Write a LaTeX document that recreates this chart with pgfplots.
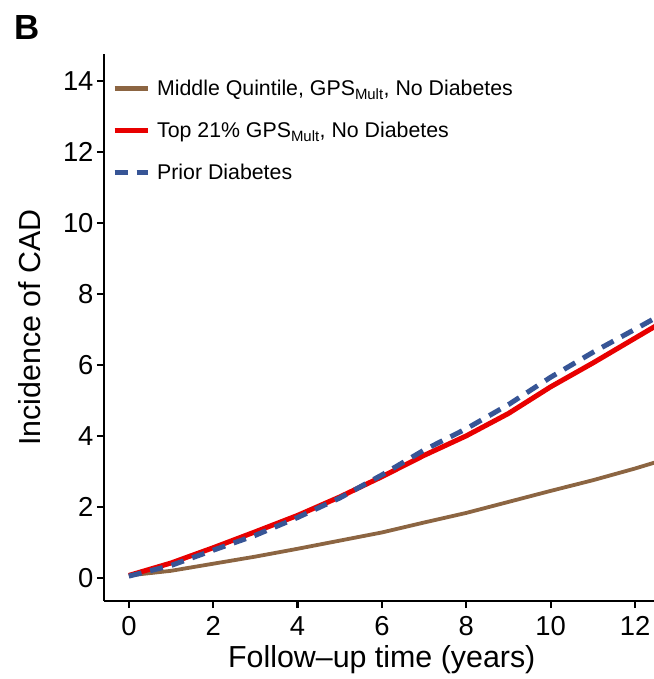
\documentclass[border=0pt]{standalone}
\usepackage{fontspec}
\setmainfont{Liberation Sans}
\usepackage{pgfplots}
\pgfplotsset{compat=1.18}
\definecolor{cbrown}{RGB}{140,101,66}
\definecolor{cred}{RGB}{232,0,0}
\definecolor{cblue}{RGB}{55,85,150}
\begin{document}
\begin{tikzpicture}
\begin{axis}[
 scale only axis, width=550bp, height=547bp,
 xmin=-0.59, xmax=12.45, ymin=-0.65, ymax=14.75,
 axis x line*=bottom, axis y line*=left,
 axis line style={-, line width=2.6bp, black},
 xtick={0,2,...,12}, ytick={0,2,...,14},
 tick align=outside, major tick length=7bp,
 tick style={line width=2.2bp, black},
 /pgf/number format/assume math mode=true,
 ticklabel style={font=\fontsize{27.5}{30}\selectfont},
 xticklabel style={yshift=-5bp},
 xlabel={Follow\textendash up time (years)},
 ylabel={Incidence of CAD},
 label style={font=\fontsize{30.5}{34}\selectfont},
 xlabel style={at={(axis description cs:0.505,-0.108)}, anchor=center},
 ylabel style={at={(axis description cs:-0.1345,0.5)}, anchor=center},
 legend style={draw=none, fill=none, at={(axis description cs:0.009,0.96)}, anchor=north west, font=\fontsize{21.4}{24}\selectfont, row sep=21bp, cells={anchor=west}},
 legend image code/.code={\draw[#1, line width=5bp] (0bp,0bp) -- (33bp,0bp); \path (38bp,0bp);},
]
\addplot[cbrown, line width=3.8bp] coordinates {(0,0.07)(1,0.2)(2,0.4)(3,0.6)(4,0.82)(5,1.05)(6,1.28)(7,1.56)(8,1.83)(9,2.14)(10,2.45)(11,2.75)(12,3.08)(12.5,3.26)};
\addlegendentry{Middle Quintile, GPS\textsubscript{Mult}, No Diabetes}
\addplot[cred, line width=5bp] coordinates {(0,0.07)(1,0.42)(2,0.85)(3,1.3)(4,1.76)(5,2.28)(6,2.85)(7,3.45)(8,4.0)(9,4.63)(10,5.38)(11,6.05)(12,6.75)(12.5,7.1)};
\addlegendentry{Top 21\% GPS\textsubscript{Mult}, No Diabetes}
\addplot[cblue, line width=5bp, dash pattern=on 13bp off 9bp] coordinates {(0,0.05)(1,0.35)(2,0.78)(3,1.2)(4,1.7)(5,2.25)(6,2.9)(7,3.6)(8,4.2)(9,4.88)(10,5.65)(11,6.35)(12,7.0)(12.5,7.33)};
\addlegendentry{Prior Diabetes}
\end{axis}
\node[font=\bfseries\fontsize{35}{40}\selectfont, anchor=west, inner sep=0pt] at (-90bp,573bp) {B};
\pgfresetboundingbox
\path (-104bp,-78bp) rectangle (550bp,601bp);
\end{tikzpicture}
\end{document}
